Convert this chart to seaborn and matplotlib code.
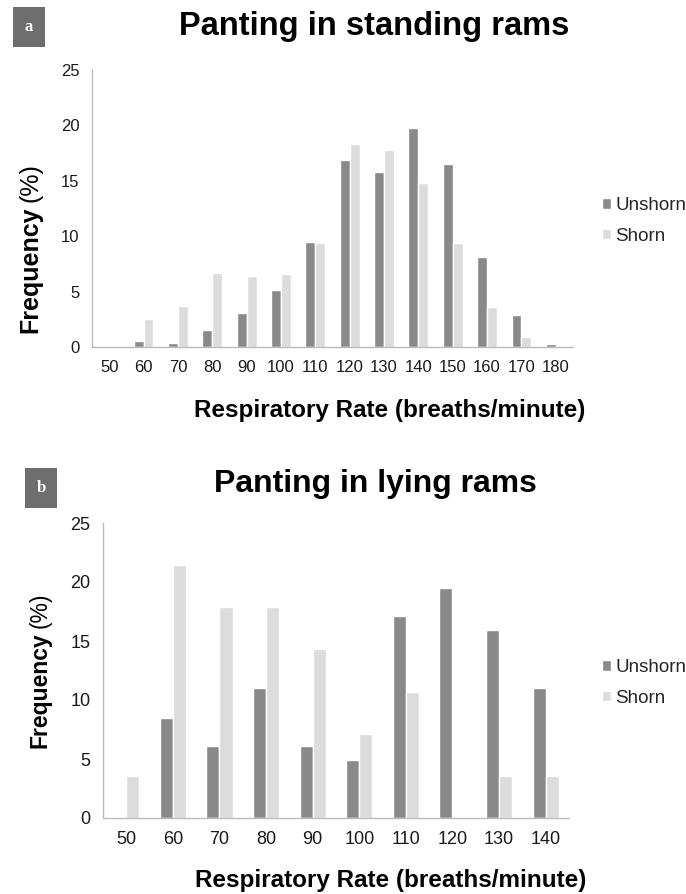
import matplotlib
matplotlib.use("Agg")
import matplotlib.pyplot as plt
import seaborn as sns
import pandas as pd

# Panel a: standing rams
rates_a = ["50", "60", "70", "80", "90", "100", "110", "120", "130", "140", "150", "160", "170", "180"]
unshorn_a = [0.1, 0.5, 0.4, 1.5, 3.1, 5.1, 9.5, 16.9, 15.8, 19.8, 16.5, 8.1, 2.9, 0.3]
shorn_a = [0.1, 2.5, 3.7, 6.7, 6.4, 6.6, 9.4, 18.3, 17.8, 14.8, 9.4, 3.6, 0.9, 0.05]

# Panel b: lying rams
rates_b = ["50", "60", "70", "80", "90", "100", "110", "120", "130", "140"]
unshorn_b = [0.0, 8.5, 6.1, 11.0, 6.1, 4.9, 17.1, 19.5, 15.9, 11.0]
shorn_b = [3.6, 21.4, 17.9, 17.9, 14.3, 7.1, 10.7, 0.0, 3.6, 3.6]

groups = ["Unshorn", "Shorn"]
palette = {"Unshorn": "#898989", "Shorn": "#dcdcdc"}


def to_long(rates, unshorn, shorn):
    return pd.DataFrame({
        "rate": rates * 2,
        "freq": unshorn + shorn,
        "group": [groups[0]] * len(rates) + [groups[1]] * len(rates),
    })


sns.set_theme(style="white")
plt.rcParams["font.family"] = ["Liberation Sans", "DejaVu Sans"]

W, H = 686, 894
fig = plt.figure(figsize=(W / 100, H / 100), dpi=100)
ax_a = fig.add_axes([92 / W, 1 - 347 / H, 481 / W, 277 / H])
ax_b = fig.add_axes([103 / W, 1 - 818 / H, 466 / W, 295 / H])

# pixel positions of the text pieces
panels = [
    dict(ax=ax_a, df=to_long(rates_a, unshorn_a, shorn_a), width=0.58,
         title="Panting in standing rams", title_xy=(374, 26), title_fs=23.5,
         tick_fs=12, xlab_xy=(390, 410), ylab_xy=(30, 333), ylab_fs=18,
         leg_y=221, tag="a", tag_xy=(29, 27)),
    dict(ax=ax_b, df=to_long(rates_b, unshorn_b, shorn_b), width=0.56,
         title="Panting in lying rams", title_xy=(375, 484), title_fs=23,
         tick_fs=13, xlab_xy=(391, 881), ylab_xy=(40, 748), ylab_fs=16.5,
         leg_y=683, tag="b", tag_xy=(41, 488)),
]

for p in panels:
    ax = p["ax"]
    sns.barplot(data=p["df"], x="rate", y="freq", hue="group", hue_order=groups,
                palette=palette, width=p["width"], saturation=1, ax=ax, errorbar=None)
    ax.set_ylim(0, 25)
    ax.set_yticks([0, 5, 10, 15, 20, 25])
    ax.set_xlim(-0.5, len(p["df"]) / 2 - 0.5)
    ax.tick_params(axis="both", length=0, labelsize=p["tick_fs"], colors="#1a1a1a", pad=9)
    for side in ["top", "right"]:
        ax.spines[side].set_visible(False)
    for side in ["left", "bottom"]:
        ax.spines[side].set_color("#bbbbbb")
        ax.spines[side].set_linewidth(1.0)
    ax.set_xlabel("")
    ax.set_ylabel("")

    fig.text(p["title_xy"][0] / W, 1 - p["title_xy"][1] / H, p["title"],
             ha="center", va="center", fontsize=p["title_fs"], fontweight="bold", color="black")
    fig.text(p["xlab_xy"][0] / W, 1 - p["xlab_xy"][1] / H, "Respiratory Rate (breaths/minute)",
             ha="center", va="center", fontsize=17.5, fontweight="bold", color="black")
    # y label: bold "Frequency" followed by a plain "(%)"
    freq = fig.text(p["ylab_xy"][0] / W, 1 - p["ylab_xy"][1] / H, "Frequency",
                    ha="center", va="bottom", rotation=90, fontsize=p["ylab_fs"],
                    fontweight="bold", color="black")
    ax.annotate("(%)", xy=(0.5, 1.0), xycoords=freq, xytext=(0, 3), textcoords="offset points",
                ha="center", va="bottom", rotation=90, fontsize=p["ylab_fs"], color="black",
                annotation_clip=False)

    handles, labels = ax.get_legend_handles_labels()
    ax.legend(handles, labels, loc="center left", bbox_to_anchor=(602 / W, 1 - p["leg_y"] / H),
              bbox_transform=fig.transFigure, frameon=False, fontsize=13.5,
              handlelength=0.5, handleheight=0.5, handletextpad=0.2, labelspacing=0.7,
              borderpad=0, borderaxespad=0)
    fig.text(p["tag_xy"][0] / W, 1 - p["tag_xy"][1] / H, p["tag"], ha="center", va="center",
             color="white", fontsize=12, fontweight="bold", family="Liberation Serif",
             bbox=dict(boxstyle="square,pad=0.7", fc="#6e6e6e", ec="none"))

fig.savefig("out.png", dpi=100)
